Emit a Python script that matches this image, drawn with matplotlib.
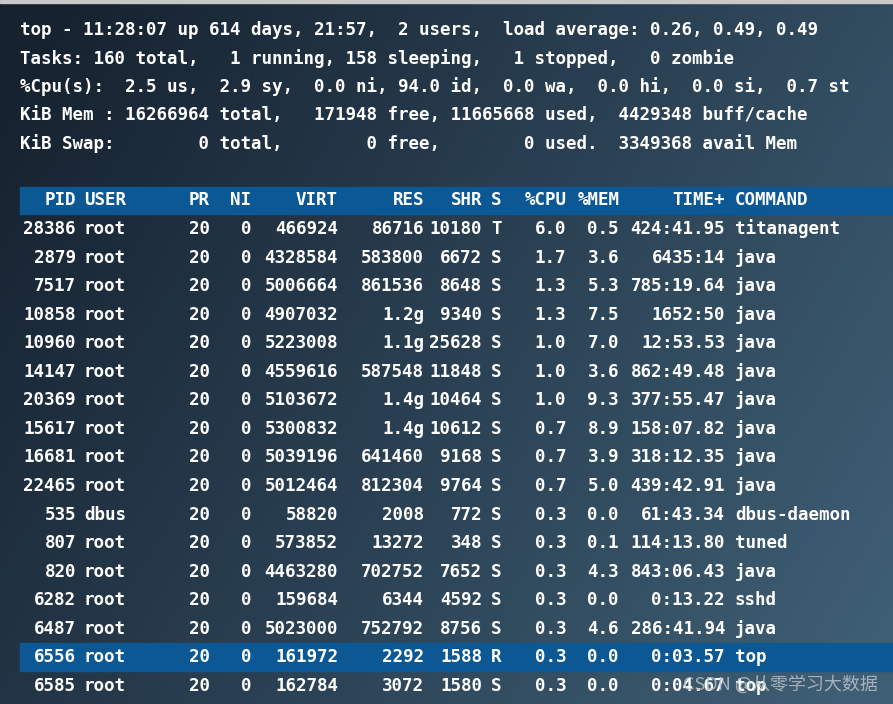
import numpy as np
import matplotlib
matplotlib.use("Agg")
import matplotlib.pyplot as plt

summary_lines = [
    "top - 11:28:07 up 614 days, 21:57,  2 users,  load average: 0.26, 0.49, 0.49",
    "Tasks: 160 total,   1 running, 158 sleeping,   1 stopped,   0 zombie",
    "%Cpu(s):  2.5 us,  2.9 sy,  0.0 ni, 94.0 id,  0.0 wa,  0.0 hi,  0.0 si,  0.7 st",
    "KiB Mem : 16266964 total,   171948 free, 11665668 used,  4429348 buff/cache",
    "KiB Swap:        0 total,        0 free,        0 used.  3349368 avail Mem",
]
headers = ["PID", "USER", "PR", "NI", "VIRT", "RES", "SHR", "S", "%CPU", "%MEM", "TIME+", "COMMAND"]
pid = ["28386","2879","7517","10858","10960","14147","20369","15617","16681","22465","535","807","820","6282","6487","6556","6585"]
user = ["root"]*10 + ["dbus"] + ["root"]*6
pr = ["20"]*17
ni = ["0"]*17
virt = ["466924","4328584","5006664","4907032","5223008","4559616","5103672","5300832","5039196","5012464","58820","573852","4463280","159684","5023000","161972","162784"]
res = ["86716","583800","861536","1.2g","1.1g","587548","1.4g","1.4g","641460","812304","2008","13272","702752","6344","752792","2292","3072"]
shr = ["10180","6672","8648","9340","25628","11848","10464","10612","9168","9764","772","348","7652","4592","8756","1588","1580"]
state = ["T"] + ["S"]*14 + ["R", "S"]
cpu = ["6.0","1.7","1.3","1.3","1.0","1.0","1.0","0.7","0.7","0.7","0.3","0.3","0.3","0.3","0.3","0.3","0.3"]
mem = ["0.5","3.6","5.3","7.5","7.0","3.6","9.3","8.9","3.9","5.0","0.0","0.1","4.3","0.0","4.6","0.0","0.0"]
time_ = ["424:41.95","6435:14","785:19.64","1652:50","12:53.53","862:49.48","377:55.47","158:07.82","318:12.35","439:42.91","61:43.34","114:13.80","843:06.43","0:13.22","286:41.94","0:03.57","0:04.67"]
command = ["titanagent","java","java","java","java","java","java","java","java","java","dbus-daemon","tuned","java","sshd","java","top","top"]

W, H = 893, 704
fig = plt.figure(figsize=(W/100, H/100), dpi=100)
ax = fig.add_axes([0, 0, 1, 1])
ax.set_xlim(0, W); ax.set_ylim(H, 0); ax.axis("off")

xx, yy = np.meshgrid(np.linspace(0, 1, 200), np.linspace(0, 1, 160))
t = np.clip(0.75*xx + 0.35*yy - 0.05, 0, 1)
c0 = np.array([0x16, 0x22, 0x30]) / 255
c1 = np.array([0x3e, 0x5e, 0x74]) / 255
img = c0[None, None, :]*(1-t[..., None]) + c1[None, None, :]*t[..., None]
ax.imshow(img, extent=[0, W, H, 0], aspect="auto", zorder=0)
ax.add_patch(plt.Rectangle((0, 0), W, 3, color="#c8c8c8", zorder=1))

font = dict(family="DejaVu Sans Mono", fontsize=12.6, fontweight="bold", color="white", va="center")

for i, line in enumerate(summary_lines):
    ax.text(20, 30 + i*28.5, line, ha="left", zorder=3, **font)

bar = "#0b5894"
hy = 200
ax.add_patch(plt.Rectangle((20, hy-13.5), W-20, 27, color=bar, zorder=1))
row_y = [229 + i*28.56 for i in range(len(pid))]
ax.add_patch(plt.Rectangle((20, row_y[15]-14), W-20, 28, color=bar, zorder=1))

cols = [(pid, 76, "right"), (user, 84, "left"), (pr, 210, "right"), (ni, 251, "right"),
        (virt, 338, "right"), (res, 424, "right"), (shr, 482, "right"), (state, 491, "left"),
        (cpu, 566, "right"), (mem, 619, "right"), (time_, 725, "right"), (command, 735, "left")]
hdr_x = {"%CPU": 567, "%MEM": 620}
for h, (vals, x, ha) in zip(headers, cols):
    ax.text(hdr_x.get(h, x), hy, h, ha=ha, zorder=3, **font)
    for y, v in zip(row_y, vals):
        ax.text(x, y, v, ha=ha, zorder=3, **font)

ax.text(878, 684, "CSDN @从零学习大数据", ha="right", va="center", fontsize=13,
        color="#b8c0c8", alpha=0.85, family=["Noto Sans CJK SC", "DejaVu Sans"], zorder=4)

fig.savefig("out.png", dpi=100)
